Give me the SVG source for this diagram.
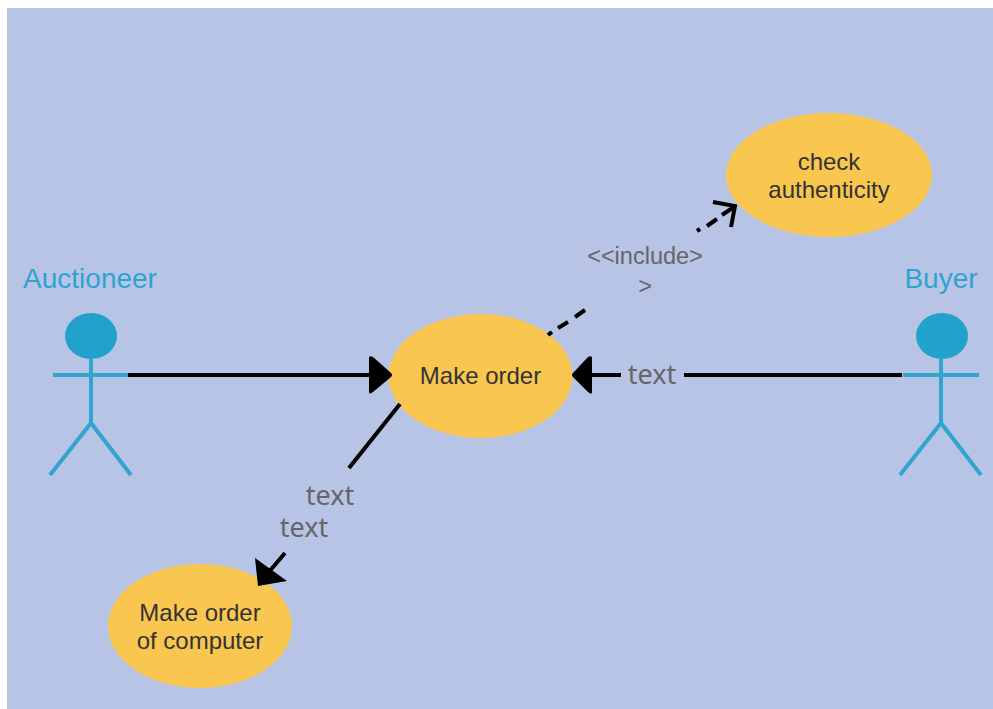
<svg xmlns="http://www.w3.org/2000/svg" width="993" height="709" viewBox="0 0 993 709">
<style>
.uc{fill:#f9c74f;stroke:none}
.ut{font:24px "Liberation Sans",Arial,sans-serif;fill:#333;text-anchor:middle}
.al{font:28px "Liberation Sans",Arial,sans-serif;fill:#2fa3cf;text-anchor:middle}
.fig{fill:none;stroke:#2fa5cf;stroke-width:4}
.head{fill:#22a1cd;stroke:none}
.c{fill:none;stroke:#000;stroke-width:4}
.lb{font:27px "Noto Sans","Open Sans",sans-serif;fill:#666;text-anchor:middle}
.inc{font:23.5px "Liberation Sans",Arial,sans-serif;fill:#666;text-anchor:middle}
</style>
<rect x="0" y="0" width="993" height="709" fill="#fff"/>
<rect x="7" y="8" width="986" height="701" fill="#b8c4e6"/>
<g id="auctioneer">
<text class="al" x="90" y="288">Auctioneer</text>
<ellipse class="head" cx="91" cy="336" rx="26" ry="23"/>
<path class="fig" d="M91 358V423M53 375H128M91 423L50 475M91 423L131 475"/>
</g>
<g id="buyer">
<text class="al" x="941" y="288">Buyer</text>
<ellipse class="head" cx="942" cy="336" rx="26" ry="23"/>
<path class="fig" d="M941 358V423M903 375H979M941 423L900 475M941 423L981 475"/>
</g>
<g id="make-order">
<ellipse class="uc" cx="480.500" cy="376" rx="92" ry="62"/>
<text class="ut" x="480.500" y="384">Make order</text>
</g>
<g id="check-authenticity">
<ellipse class="uc" cx="829" cy="175" rx="103" ry="62"/>
<text class="ut" x="829" y="170">check</text>
<text class="ut" x="829" y="198">authenticity</text>
</g>
<g id="make-order-computer">
<ellipse class="uc" cx="200" cy="626" rx="92" ry="62"/>
<text class="ut" x="200" y="621">Make order</text>
<text class="ut" x="200" y="649">of computer</text>
</g>
<g id="connectors">
<path class="c" d="M128 375H372"/>
<path d="M369 358Q369 355 373 357L391 373Q393 375 391 377L373 392Q369 395 369 392Z"/>
<path class="c" d="M902 375H684M621 375H590"/>
<path d="M592 358Q592 355 588 357L573 373Q571 375 573 377L588 392Q592 395 592 392Z"/>
<path class="c" d="M400 404L349 468M285 553L268 573"/>
<path d="M255 558L287 581L258 586Z"/>
<path class="c" d="M548 335L552 332M558 328L568 322M575 317L585 310"/>
<path class="c" d="M697 231L700 229M707 226L717 219M722 215L734 207"/>
<path class="c" d="M713 202L735 206L731 227"/>
</g>
<g id="labels">
<text class="lb" x="652" y="384">text</text>
<text class="lb" x="330" y="505">text</text>
<text class="lb" x="304" y="537">text</text>
<text class="inc" x="645" y="264">&lt;&lt;include&gt;</text>
<text class="inc" x="645" y="294">&gt;</text>
</g>
</svg>
